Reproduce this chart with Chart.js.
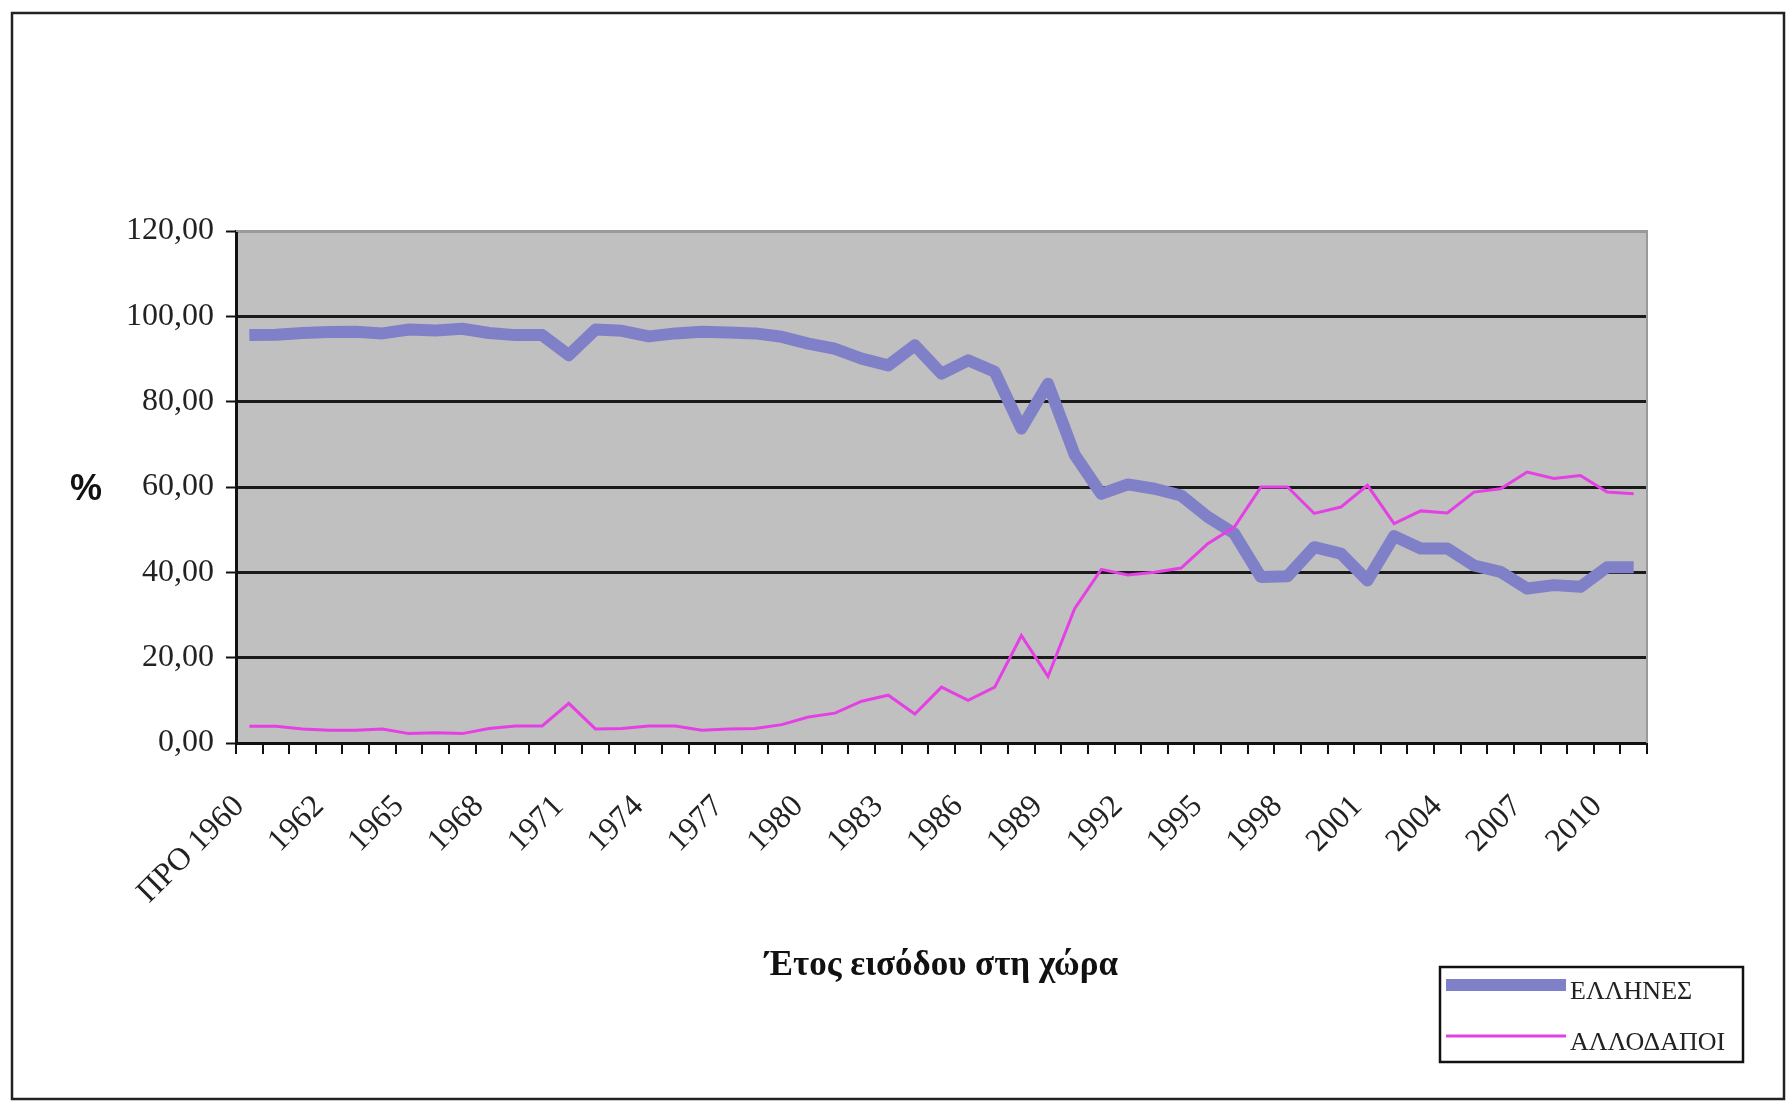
<!DOCTYPE html>
<html>
<head>
<meta charset="utf-8">
<script src="https://cdn.jsdelivr.net/npm/chart.js@4.4.1/dist/chart.umd.min.js"></script>
<style>
    html, body { margin: 0; padding: 0; background: #fff; }
    #wrap { width: 1786px; height: 1102px; }
</style>
</head>
<body>
<div id="wrap"><canvas id="chart" width="1786" height="1102"></canvas></div>
<script>
// Year of entry into the country
const years = [
    'ΠΡΟ 1960', '1960', '1961', '1962', '1963', '1964', '1965', '1966', '1967', '1968',
    '1969', '1970', '1971', '1972', '1973', '1974', '1975', '1976', '1977', '1978',
    '1979', '1980', '1981', '1982', '1983', '1984', '1985', '1986', '1987', '1988',
    '1989', '1990', '1991', '1992', '1993', '1994', '1995', '1996', '1997', '1998',
    '1999', '2000', '2001', '2002', '2003', '2004', '2005', '2006', '2007', '2008',
    '2009', '2010', '2011'
];

// % Greeks
const greeks = [
    95.6, 95.7, 96.1, 96.3, 96.4, 96.0, 96.9, 96.7, 97.1, 96.1,
    95.6, 95.6, 90.9, 96.9, 96.6, 95.3, 96.0, 96.4, 96.2, 96.0,
    95.2, 93.6, 92.4, 90.1, 88.5, 93.2, 86.6, 89.7, 87.0, 73.7,
    84.2, 67.6, 58.4, 60.6, 59.6, 58.0, 53.0, 49.1, 38.9, 39.1,
    45.9, 44.4, 38.1, 48.5, 45.6, 45.6, 41.6, 40.1, 36.2, 37.0,
    36.6, 41.2, 41.2
];

// % foreigners
const foreigners = [
    3.9, 3.9, 3.3, 3.0, 3.0, 3.3, 2.2, 2.4, 2.2, 3.4,
    4.0, 4.0, 9.3, 3.3, 3.4, 4.0, 4.0, 3.0, 3.3, 3.4,
    4.3, 6.1, 7.0, 9.8, 11.2, 6.8, 13.1, 10.0, 13.1, 25.2,
    15.6, 31.5, 40.7, 39.4, 40.0, 41.0, 46.7, 50.6, 60.0, 60.0,
    53.8, 55.3, 60.4, 51.4, 54.4, 53.9, 58.8, 59.6, 63.5, 62.0,
    62.7, 58.8, 58.4
];

const yTicks = [0, 20, 40, 60, 80, 100, 120];

const SERIF = '"Liberation Serif", "DejaVu Serif", serif';

// plot background, frame, "%" label and the boxed legend
const decor = {
    id: 'decor',
    beforeDraw(chart) {
        const { ctx, chartArea: a } = chart;
        ctx.save();
        ctx.fillStyle = '#fff';
        ctx.fillRect(0, 0, chart.width, chart.height);
        ctx.fillStyle = '#c0c0c0';
        ctx.fillRect(a.left, a.top, a.right - a.left, a.bottom - a.top);
        ctx.restore();
    },
    beforeDatasetsDraw(chart) {
        const { ctx, chartArea: a } = chart;
        ctx.save();
        ctx.strokeStyle = '#9a9a9a';
        ctx.lineWidth = 2;
        ctx.beginPath();
        ctx.moveTo(a.left, a.top);
        ctx.lineTo(a.right, a.top);
        ctx.lineTo(a.right, a.bottom);
        ctx.stroke();
        ctx.restore();
    },
    afterDraw(chart) {
        const { ctx, chartArea: a } = chart;
        ctx.save();
        // outer frame
        ctx.strokeStyle = '#222';
        ctx.lineWidth = 2.5;
        ctx.strokeRect(12, 13, 1772, 1086);

        // "%" beside the y axis
        ctx.fillStyle = '#111';
        ctx.font = 'bold 36px "Liberation Sans", Arial, sans-serif';
        ctx.textAlign = 'center';
        ctx.textBaseline = 'middle';
        ctx.fillText('%', 86, (a.top + a.bottom) / 2 + 3);

        // legend box
        ctx.lineWidth = 2.5;
        ctx.strokeStyle = '#111';
        ctx.strokeRect(1440, 967, 303, 95);
        const rows = [985, 1036];
        ctx.font = '26px ' + SERIF;
        ctx.textAlign = 'left';
        chart.data.datasets.slice().sort((p, q) => q.order - p.order).forEach((ds, i) => {
            ctx.strokeStyle = ds.borderColor;
            ctx.lineWidth = ds.borderWidth;
            ctx.beginPath();
            ctx.moveTo(1446, rows[i]);
            ctx.lineTo(1566, rows[i]);
            ctx.stroke();
            ctx.fillStyle = '#222';
            ctx.fillText(ds.label, 1570, rows[i] + 7);
        });
        ctx.restore();
    }
};

new Chart(document.getElementById('chart'), {
    type: 'line',
    data: {
        labels: years,
        datasets: [
            {
                label: 'ΕΛΛΗΝΕΣ',
                data: greeks,
                borderColor: '#8080c8',
                borderWidth: 12,
                borderJoinStyle: 'round',
                pointRadius: 0,
                tension: 0,
                order: 1
            },
            {
                label: 'ΑΛΛΟΔΑΠΟΙ',
                data: foreigners,
                borderColor: '#e440e4',
                borderWidth: 3,
                pointRadius: 0,
                tension: 0,
                order: 0
            }
        ]
    },
    options: {
        responsive: false,
        animation: false,
        layout: { padding: { top: 231, right: 139, bottom: 115, left: 0 } },
        plugins: {
            legend: { display: false },
            tooltip: { enabled: false }
        },
        scales: {
            x: {
                offset: true,
                afterFit: s => { s.height = 244; },
                grid: {
                    offset: true,
                    drawOnChartArea: false,
                    drawTicks: true,
                    tickLength: 11,
                    color: '#111',
                    lineWidth: 2
                },
                border: { color: '#111', width: 3 },
                ticks: {
                    autoSkip: false,
                    maxRotation: 45,
                    minRotation: 45,
                    padding: 34,
                    labelOffset: -10,
                    color: '#222',
                    font: { family: SERIF, size: 32 },
                    callback: function (val, index) {
                        return index % 3 === 0 ? this.getLabelForValue(val) : '';
                    }
                },
                title: {
                    display: true,
                    text: 'Έτος εισόδου στη χώρα',
                    color: '#111',
                    padding: 0,
                    font: { family: SERIF, size: 35, weight: 'bold' }
                }
            },
            y: {
                min: 0,
                max: 120,
                afterFit: s => { s.width = 236; },
                afterBuildTicks: s => { s.ticks = yTicks.map(v => ({ value: v })); },
                grid: {
                    color: c => (c.tick && c.tick.value === 120) ? '#9a9a9a' : '#1a1a1a',
                    lineWidth: 3,
                    tickLength: 10,
                    tickColor: '#111',
                    tickWidth: 2
                },
                border: { color: '#111', width: 3 },
                ticks: {
                    padding: 12,
                    color: '#222',
                    font: { family: SERIF, size: 32 },
                    callback: v => v.toFixed(2).replace('.', ',')
                }
            }
        }
    },
    plugins: [decor]
});
</script>
</body>
</html>
